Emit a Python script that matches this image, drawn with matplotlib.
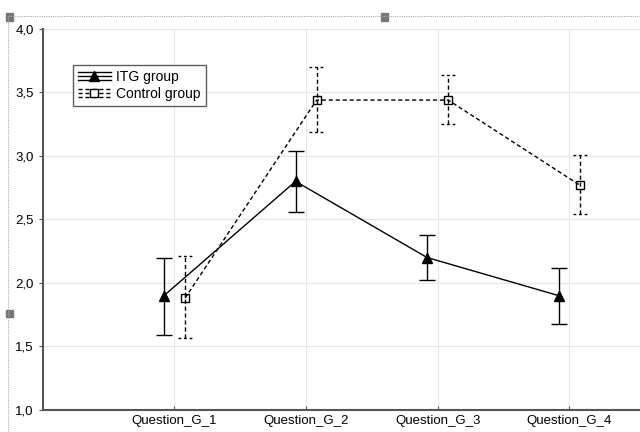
import matplotlib
matplotlib.use("Agg")
import matplotlib.pyplot as plt
import numpy as np
from matplotlib.patches import Rectangle
from matplotlib.lines import Line2D
from matplotlib.legend_handler import HandlerBase

# ==========================================
# DATA
# ==========================================

questions = ["Question_G_1", "Question_G_2", "Question_G_3", "Question_G_4"]

itg_mean = [1.90, 2.80, 2.20, 1.90]
itg_low = [1.59, 2.56, 2.02, 1.68]
itg_high = [2.20, 3.04, 2.38, 2.12]

ctrl_mean = [1.88, 3.44, 3.44, 2.77]
ctrl_low = [1.57, 3.19, 3.25, 2.54]
ctrl_high = [2.21, 3.70, 3.64, 3.01]

yticks = [1.0, 1.5, 2.0, 2.5, 3.0, 3.5, 4.0]
ytick_labels = ["1,0", "1,5", "2,0", "2,5", "3,0", "3,5", "4,0"]

DASH = (0, (3, 2))


# ==========================================
# LEGEND HANDLE (line + marker + whisker lines, Statistica style)
# ==========================================

class WhiskerHandler(HandlerBase):
    def __init__(self, marker, ls, ms):
        super().__init__()
        self.marker = marker
        self.ls = ls
        self.ms = ms

    def create_artists(self, legend, orig_handle, xdescent, ydescent,
                       width, height, fontsize, trans):
        x0, x1 = -xdescent, width - xdescent
        ym = height / 2 - ydescent
        d = height * 0.42
        arts = []
        for yy in (ym - d, ym, ym + d):
            arts.append(Line2D([x0, x1], [yy, yy], color="black", lw=1.0,
                               ls=self.ls, transform=trans))
        arts.append(Line2D([(x0 + x1) / 2], [ym], marker=self.marker,
                           markersize=self.ms, color="black",
                           markerfacecolor="black" if self.marker == "^" else "white",
                           ls="none", transform=trans))
        return arts


# ==========================================
# PLOT
# ==========================================

plt.rcParams["font.family"] = ["Liberation Sans", "DejaVu Sans"]

fig = plt.figure(figsize=(6.4, 4.32), dpi=100)
ax = fig.add_axes([0.067, 0.051, 0.95, 0.882])

x = np.arange(1, len(questions) + 1)
off = 0.08

itg_err = [np.array(itg_mean) - np.array(itg_low), np.array(itg_high) - np.array(itg_mean)]
ctrl_err = [np.array(ctrl_mean) - np.array(ctrl_low), np.array(ctrl_high) - np.array(ctrl_mean)]

eb1 = ax.errorbar(x - off, itg_mean, yerr=itg_err, color="black", lw=1.0,
                  marker="^", markersize=6.5, capsize=5.5, elinewidth=1.0,
                  capthick=1.0, zorder=3)
eb2 = ax.errorbar(x + off, ctrl_mean, yerr=ctrl_err, color="black", lw=1.0,
                  ls=DASH, marker="s", markersize=5.5,
                  markerfacecolor="none", capsize=5.5, elinewidth=1.0,
                  capthick=1.0, zorder=3)
for line in eb2[2]:
    line.set_linestyle(DASH)
for cap in eb2[1]:
    cap.set_visible(False)
# dashed caps for the control group
for xi, lo, hi in zip(x + off, ctrl_low, ctrl_high):
    for yy in (lo, hi):
        ax.plot([xi - 0.055, xi + 0.055], [yy, yy], color="black", lw=1.0,
                ls=(0, (2, 2)), zorder=3)

ax.set_xlim(0, 4.62)
ax.set_ylim(1.0, 4.0)
ax.set_xticks(x)
ax.set_xticklabels(questions, fontsize=9.5)
ax.set_yticks(yticks)
ax.set_yticklabels(ytick_labels, fontsize=9.5)

ax.grid(True, color="#e6e6e6", lw=0.8)
ax.set_axisbelow(True)

for s in ["top", "right"]:
    ax.spines[s].set_visible(False)
for s in ["left", "bottom"]:
    ax.spines[s].set_color("#555555")
    ax.spines[s].set_linewidth(1.5)

ax.tick_params(axis="y", direction="out", length=3, color="#555555")
ax.tick_params(axis="x", direction="in", length=3, color="#555555")

h1 = Line2D([], [])
h2 = Line2D([], [])
leg = ax.legend(handles=[h1, h2], labels=["ITG group", "Control group"],
                handler_map={h1: WhiskerHandler("^", "-", 6.5),
                             h2: WhiskerHandler("s", DASH, 5.5)},
                loc="upper left", bbox_to_anchor=(0.049, 0.906),
                fontsize=10, frameon=True, fancybox=False, edgecolor="#333333",
                borderpad=0.35, handlelength=2.4, handletextpad=0.4,
                labelspacing=0.25, borderaxespad=0)
leg.get_frame().set_linewidth(1.0)

# screenshot selection frame
fig.add_artist(Line2D([0.013, 1.0], [0.962, 0.962], color="#aaaaaa", lw=0.8,
                      ls=(0, (1, 1)), transform=fig.transFigure))
fig.add_artist(Line2D([0.013, 0.013], [0.0, 0.962], color="#aaaaaa", lw=0.8,
                      ls=(0, (1, 1)), transform=fig.transFigure))
for (hx, hy) in [(0.009, 0.952), (0.596, 0.952), (0.009, 0.266)]:
    fig.add_artist(Rectangle((hx, hy), 0.011, 0.017, color="#777777",
                             transform=fig.transFigure))

fig.savefig("out.png", dpi=100)
